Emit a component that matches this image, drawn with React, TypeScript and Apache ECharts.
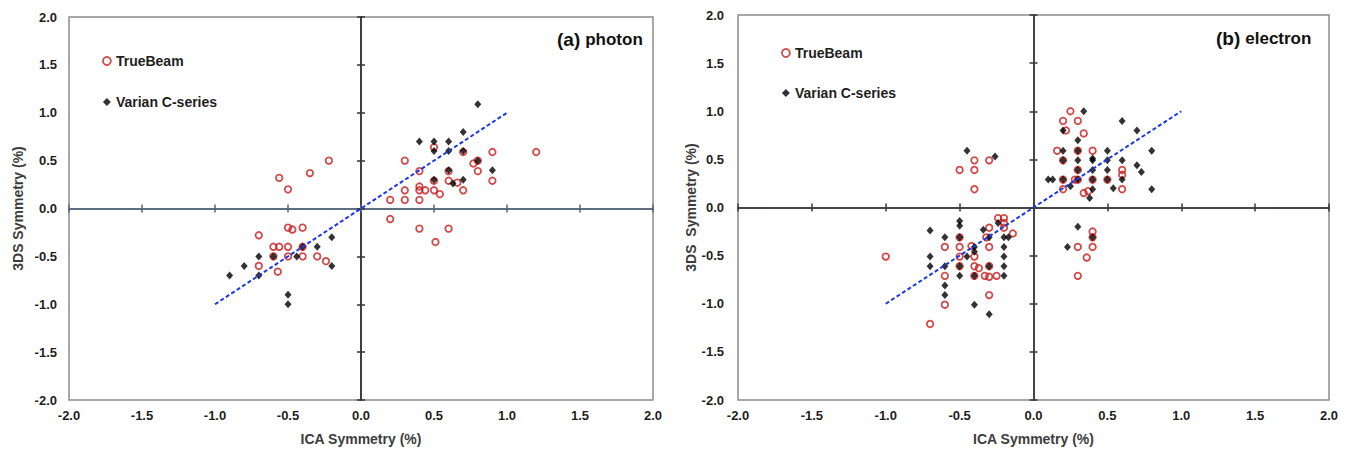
import React, { useEffect, useRef } from "react";
import * as echarts from "echarts";

// Symmetry comparison: ICA (x) vs 3DS (y), in percent.
const photonTrueBeam: [number, number][] = [
  [-0.56, 0.32], [-0.5, 0.2], [-0.35, 0.37], [-0.22, 0.5],
  [-0.7, -0.28], [-0.5, -0.2], [-0.47, -0.22], [-0.4, -0.2],
  [-0.6, -0.4], [-0.56, -0.4], [-0.5, -0.4], [-0.4, -0.4],
  [-0.6, -0.5], [-0.5, -0.5], [-0.4, -0.5], [-0.3, -0.5], [-0.24, -0.55],
  [-0.7, -0.6], [-0.57, -0.66],
  [0.3, 0.5], [0.4, 0.39], [0.5, 0.64], [0.4, 0.23], [0.4, 0.19], [0.44, 0.19],
  [0.5, 0.19], [0.54, 0.15], [0.3, 0.19], [0.2, 0.09], [0.3, 0.09], [0.4, 0.09],
  [0.6, 0.39], [0.6, 0.29], [0.66, 0.27], [0.7, 0.59], [0.7, 0.19], [0.77, 0.47],
  [0.8, 0.39], [0.8, 0.5], [0.9, 0.59], [0.9, 0.29], [1.2, 0.59], [0.5, 0.29],
  [0.2, -0.11], [0.4, -0.21], [0.6, -0.21], [0.51, -0.35],
];

const photonVarian: [number, number][] = [
  [0.8, 1.09], [0.4, 0.7], [0.5, 0.7], [0.6, 0.7], [0.7, 0.8],
  [0.5, 0.6], [0.6, 0.6], [0.7, 0.6], [0.8, 0.5], [0.6, 0.4],
  [0.5, 0.3], [0.7, 0.3], [0.63, 0.26], [0.9, 0.4],
  [-0.9, -0.7], [-0.8, -0.6], [-0.7, -0.5], [-0.7, -0.7], [-0.6, -0.5],
  [-0.44, -0.5], [-0.4, -0.4], [-0.3, -0.4], [-0.2, -0.3], [-0.2, -0.6],
  [-0.5, -0.9], [-0.5, -1.0],
];

const electronTrueBeam: [number, number][] = [
  [-0.5, 0.39], [-0.4, 0.49], [-0.4, 0.39], [-0.3, 0.49], [-0.4, 0.19],
  [-1.0, -0.51], [-0.7, -1.21], [-0.6, -0.41], [-0.6, -0.71], [-0.6, -1.01],
  [-0.5, -0.31], [-0.5, -0.41], [-0.5, -0.51], [-0.5, -0.61],
  [-0.42, -0.4], [-0.4, -0.51], [-0.4, -0.61], [-0.37, -0.63], [-0.4, -0.71],
  [-0.3, -0.21], [-0.32, -0.31], [-0.3, -0.41], [-0.3, -0.61], [-0.33, -0.71],
  [-0.3, -0.72], [-0.25, -0.71], [-0.3, -0.91],
  [-0.24, -0.11], [-0.2, -0.11], [-0.2, -0.16], [-0.2, -0.21], [-0.14, -0.27],
  [0.25, 1.0], [0.2, 0.9], [0.3, 0.9], [0.22, 0.8], [0.34, 0.77],
  [0.16, 0.59], [0.3, 0.59], [0.4, 0.59], [0.2, 0.49], [0.3, 0.39],
  [0.2, 0.29], [0.28, 0.29], [0.3, 0.29], [0.4, 0.29], [0.5, 0.29],
  [0.6, 0.39], [0.6, 0.34], [0.6, 0.19], [0.2, 0.19], [0.34, 0.15], [0.37, 0.17],
  [0.3, -0.41], [0.3, -0.71], [0.36, -0.52], [0.4, -0.25], [0.4, -0.31], [0.4, -0.41],
];

const electronVarian: [number, number][] = [
  [-0.45, 0.59], [-0.26, 0.53],
  [-0.7, -0.24], [-0.7, -0.51], [-0.7, -0.61], [-0.6, -0.31], [-0.6, -0.61],
  [-0.6, -0.81], [-0.6, -0.91], [-0.5, -0.14], [-0.5, -0.19], [-0.5, -0.31],
  [-0.5, -0.61], [-0.5, -0.71], [-0.45, -0.51], [-0.4, -0.41], [-0.4, -0.46],
  [-0.4, -0.71], [-0.4, -1.01], [-0.34, -0.23], [-0.3, -0.31], [-0.3, -0.61],
  [-0.3, -1.11], [-0.24, -0.16], [-0.2, -0.31], [-0.2, -0.41], [-0.2, -0.51],
  [-0.2, -0.61], [-0.2, -0.71], [-0.17, -0.31],
  [0.34, 1.0], [0.2, 0.8], [0.6, 0.9], [0.7, 0.8], [0.3, 0.7],
  [0.2, 0.59], [0.3, 0.59], [0.4, 0.51], [0.5, 0.59], [0.3, 0.49],
  [0.5, 0.49], [0.6, 0.49], [0.8, 0.59], [0.2, 0.49], [0.4, 0.49],
  [0.3, 0.39], [0.4, 0.39], [0.5, 0.39], [0.7, 0.44], [0.73, 0.37],
  [0.1, 0.29], [0.13, 0.29], [0.2, 0.29], [0.3, 0.29], [0.4, 0.29],
  [0.5, 0.29], [0.6, 0.29], [0.25, 0.22], [0.4, 0.19], [0.54, 0.2],
  [0.8, 0.19], [0.38, 0.1],
  [0.3, -0.2], [0.23, -0.41], [0.4, -0.31],
];

// Line of identity drawn on both panels
const identityLine: [number, number][] = [[-1, -1], [1, 1]];

const axisMin = -2;
const axisMax = 2;
const axisStep = 0.5;

const panelTitles = [
  { tag: "(a)", label: "photon" },
  { tag: "(b)", label: "electron" },
];
const xAxisTitle = "ICA Symmetry (%)";
const yAxisTitles = ["3DS Symmetry (%)", "3DS  Symmetry (%)"];
const seriesNames = ["TrueBeam", "Varian C-series"];

const FONT = "'Liberation Sans', Arial, sans-serif";
const RED = "#c81c1c";
const BLUE = "#1c36ee";

const panels = [
  {
    grid: { left: 69, top: 17, width: 584, height: 385 },
    trueBeam: photonTrueBeam,
    varian: photonVarian,
    hColor: "#56657a",
    vColor: "#333333",
    yNameGap: 44,
    yLabelMargin: 12,
    legend: { left: 97, top: 49 },
    legendGap: 27,
    title: { left: 552, top: 25 },
  },
  {
    grid: { left: 738, top: 15, width: 591, height: 387 },
    trueBeam: electronTrueBeam,
    varian: electronVarian,
    hColor: "#3a3a3a",
    vColor: "#3a3a3a",
    yNameGap: 37,
    yLabelMargin: 14,
    legend: { left: 776, top: 41 },
    legendGap: 26,
    title: { left: 1211, top: 24 },
  },
];

function buildOption() {
  const grids: any[] = [];
  const xAxes: any[] = [];
  const yAxes: any[] = [];
  const series: any[] = [];
  const legends: any[] = [];
  const titles: any[] = [];

  panels.forEach((p, g) => {
    const base = 3 * g;
    grids.push({
      ...p.grid,
      show: true,
      borderColor: "#8c8c8c",
      borderWidth: 1.5,
      backgroundColor: "transparent",
    });

    const common = {
      gridIndex: g,
      type: "value",
      min: axisMin,
      max: axisMax,
      interval: axisStep,
      splitLine: { show: false },
    };

    // Labelled x axis along the frame bottom
    xAxes.push({
      ...common,
      position: "bottom",
      axisLine: { show: false, onZero: false },
      axisTick: { show: false },
      axisLabel: {
        margin: 9,
        fontSize: 13,
        fontWeight: "bold",
        color: "#1e1e1e",
        fontFamily: FONT,
        formatter: (v: number) => v.toFixed(1),
      },
      name: xAxisTitle,
      nameLocation: "middle",
      nameGap: 32,
      nameTextStyle: { fontSize: 14, fontWeight: "bold", color: "#3c3c3c", fontFamily: FONT },
    });
    // Horizontal cross axis through y = 0, ticks on both sides
    [false, true].forEach((inside) => {
      xAxes.push({
        ...common,
        position: "bottom",
        axisLine: {
          show: true,
          onZero: true,
          onZeroAxisIndex: base,
          lineStyle: { color: p.hColor, width: 1.5 },
        },
        axisTick: { show: true, inside, length: 4, lineStyle: { color: p.hColor, width: 1.5 } },
        axisLabel: { show: false },
      });
    });

    // Labelled y axis along the frame left
    yAxes.push({
      ...common,
      position: "left",
      axisLine: { show: false, onZero: false },
      axisTick: { show: false },
      axisLabel: {
        margin: p.yLabelMargin,
        fontSize: 13,
        fontWeight: "bold",
        color: "#1e1e1e",
        fontFamily: FONT,
        formatter: (v: number) => v.toFixed(1),
      },
      name: yAxisTitles[g],
      nameLocation: "middle",
      nameGap: p.yNameGap,
      nameTextStyle: { fontSize: 14, fontWeight: "bold", color: "#3c3c3c", fontFamily: FONT },
    });
    // Vertical cross axis through x = 0, ticks on both sides
    [false, true].forEach((inside) => {
      yAxes.push({
        ...common,
        position: "left",
        axisLine: {
          show: true,
          onZero: true,
          onZeroAxisIndex: base,
          lineStyle: { color: p.vColor, width: 1.5 },
        },
        axisTick: { show: true, inside, length: 4, lineStyle: { color: p.vColor, width: 1.5 } },
        axisLabel: { show: false },
      });
    });

    series.push({
      name: seriesNames[0],
      type: "scatter",
      xAxisIndex: base,
      yAxisIndex: base,
      data: p.trueBeam,
      symbol: "circle",
      symbolSize: 6.5,
      itemStyle: { color: "rgba(255,255,255,0)", borderColor: RED, borderWidth: 1.8 },
      z: 3,
      silent: true,
    });
    series.push({
      name: seriesNames[1],
      type: "scatter",
      xAxisIndex: base,
      yAxisIndex: base,
      data: p.varian,
      symbol: "diamond",
      symbolSize: [7, 8],
      itemStyle: { color: "#000000" },
      z: 4,
      silent: true,
    });
    series.push({
      name: "identity",
      type: "line",
      xAxisIndex: base,
      yAxisIndex: base,
      data: identityLine,
      symbol: "none",
      lineStyle: { color: BLUE, width: 2, type: [4, 2.5] },
      z: 5,
      silent: true,
    });

    legends.push({
      left: p.legend.left,
      top: p.legend.top,
      orient: "vertical",
      itemWidth: 8,
      itemHeight: 8,
      itemGap: p.legendGap,
      selectedMode: false,
      textStyle: { fontSize: 14, fontWeight: "bold", color: "#1e1e1e", fontFamily: FONT },
      data: [
        {
          name: seriesNames[0],
          icon: "circle",
          itemStyle: { color: "rgba(255,255,255,0)", borderColor: RED, borderWidth: 1.8 },
        },
        {
          name: seriesNames[1],
          icon: "diamond",
          itemStyle: { color: "#000000", borderWidth: 0 },
        },
      ],
    });

    titles.push({
      left: p.title.left,
      top: p.title.top,
      text: `{a|${panelTitles[g].tag}} {b|${panelTitles[g].label}}`,
      textStyle: {
        rich: {
          a: { fontSize: 19, fontWeight: "bold", color: "#111111", fontFamily: FONT },
          b: { fontSize: 17, fontWeight: "bold", color: "#111111", fontFamily: FONT },
        },
      },
    });
  });

  return {
    animation: false,
    backgroundColor: "#ffffff",
    textStyle: { fontFamily: FONT },
    title: titles,
    legend: legends,
    grid: grids,
    xAxis: xAxes,
    yAxis: yAxes,
    series,
  };
}

export default function App() {
  const ref = useRef<HTMLDivElement>(null);

  useEffect(() => {
    if (!ref.current) return;
    const chart = echarts.init(ref.current, undefined, { renderer: "svg" });
    chart.setOption(buildOption() as any);
    return () => chart.dispose();
  }, []);

  return (
    <div
      ref={ref}
      style={{ position: "fixed", left: 0, top: 0, width: 1352, height: 451, background: "#fff" }}
    />
  );
}
